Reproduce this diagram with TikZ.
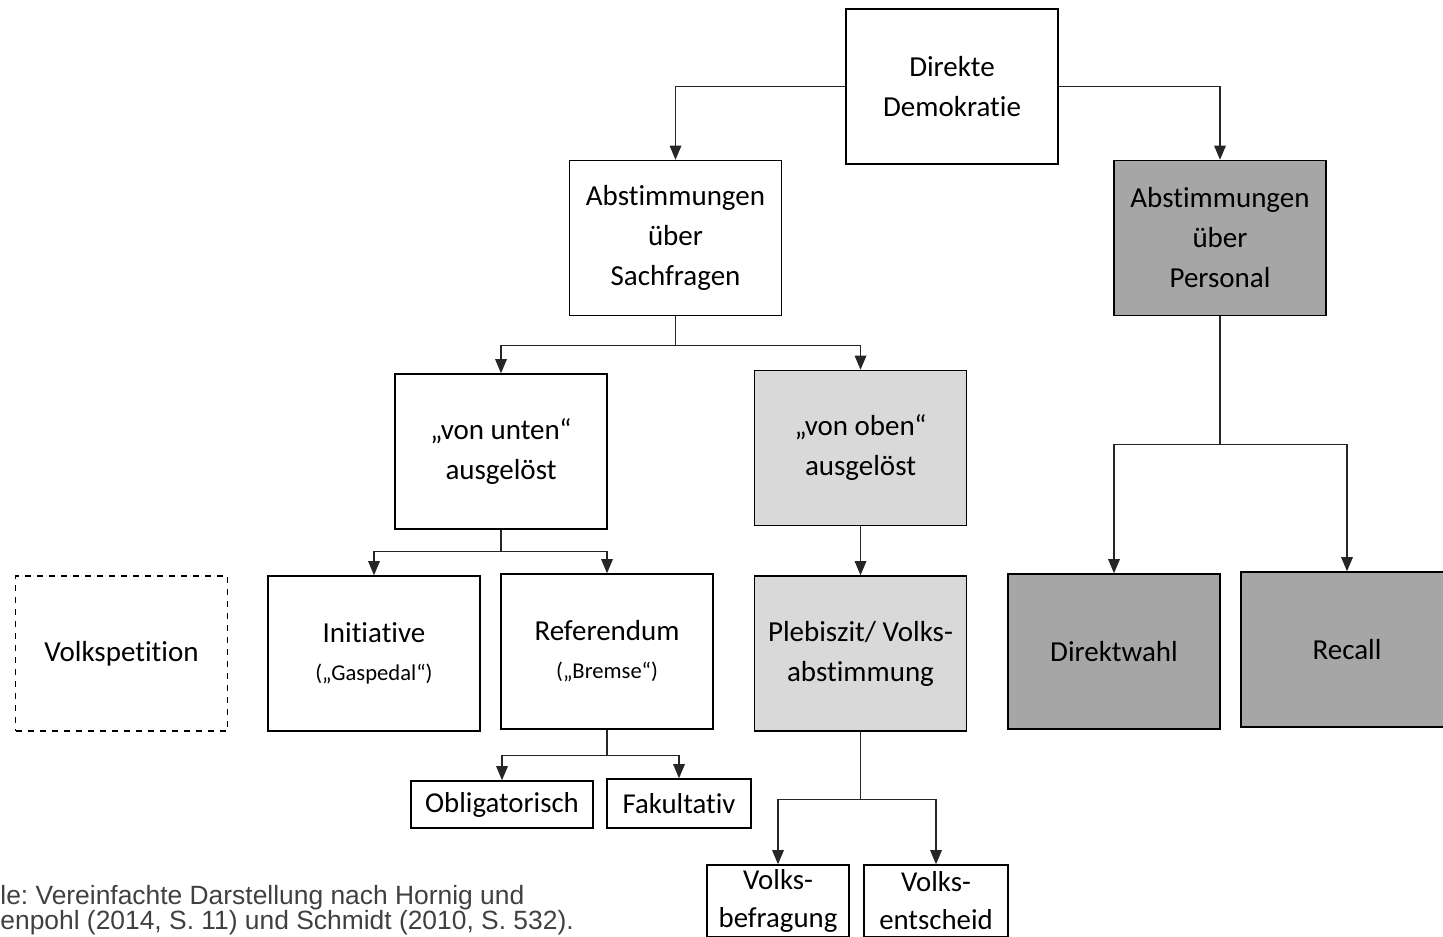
\documentclass[tikz,border=0pt]{standalone}
\usepackage{fontspec}
\setmainfont[Ligatures=NoCommon]{Carlito}
\newfontfamily\capfont{Liberation Sans}
\usepackage{tikz}
\usetikzlibrary{arrows}
\frenchspacing

\definecolor{darkbox}{HTML}{A6A6A6}
\definecolor{lightbox}{HTML}{D9D9D9}
\definecolor{capgray}{HTML}{404040}

\begin{document}
\begin{tikzpicture}
	[x=0.5pt,y=-0.5pt,->,>=triangle 45,
		box/.style={draw,line width=0.8pt,rectangle,minimum width=106pt,minimum height=77.5pt,align=center,inner sep=2pt,font=\fontsize{14.5}{20}\selectfont},
		small box/.style={draw,line width=0.8pt,rectangle,align=center,inner sep=1pt},
		link/.style={line width=0.6pt,draw=black!85},
		caption/.style={anchor=base west,inner sep=0pt,text=capgray,font=\capfont\fontsize{13.2}{15}\selectfont}]

	\useasboundingbox (0,0) rectangle (1443,936);
	\clip (0,0) rectangle (1443,936);

	\node[box] (dd) at (952,86.5) {Direkte\\Demokratie};
	\node[box] (as) at (675.5,238) {Abstimmungen\\über\\Sachfragen};
	\node[box,fill=darkbox] (ap) at (1220,238) {Abstimmungen\\über\\Personal};
	\node[box] (vu) at (501,451.5) {„von unten“\\ausgelöst};
	\node[box,fill=lightbox] (vo) at (860.5,448) {„von oben“\\ausgelöst};
	\node[box,dashed] (vp) at (121.5,653.5) {Volkspetition};
	\node[box] (init) at (374,653.5) {Initiative\\[-1pt]{\fontsize{11.3}{13}\selectfont(„Gaspedal“)}};
	\node[box] (ref) at (607,651.5) {Referendum\\[-1pt]{\fontsize{11.3}{13}\selectfont(„Bremse“)}};
	\node[box,fill=lightbox] (pv) at (860.5,653.5) {Plebiszit/ Volks-\\abstimmung};
	\node[box,fill=darkbox] (dw) at (1114,651.5) {Direktwahl};
	\node[box,fill=darkbox] (rc) at (1347,649.5) {Recall};
	\node[small box,minimum width=91pt,minimum height=23.5pt,font=\fontsize{14.4}{18}\selectfont] (ob) at (502,804.5) {Obligatorisch};
	\node[small box,minimum width=72pt,minimum height=24.5pt,font=\fontsize{14.4}{18}\selectfont] (fa) at (679,803.5) {Fakultativ};
	\node[small box,minimum width=71pt,minimum height=36pt,font=\fontsize{14.4}{19}\selectfont] (vb) at (778,901) {Volks-\\befragung};
	\node[small box,minimum width=72pt,minimum height=36pt,font=\fontsize{14.4}{19}\selectfont] (ve) at (936,901) {Volks-\\entscheid};

	\node[caption] (src1) at (0,904) {le: Vereinfachte Darstellung nach Hornig und};
	\node[caption] (src2) at (0,929) {enpohl (2014, S. 11) und Schmidt (2010, S. 532).};

	% junctions
	\path (as.south) ++(0,29) coordinate (sj);
	\path (vu.south) ++(0,22) coordinate (uj);
	\path (ref.south) ++(0,26) coordinate (rj);
	\path (pv.south) ++(0,68) coordinate (pj);
	\path (ap.south) ++(0,128) coordinate (aj);

	\draw[link] (dd.west) -| (as.north);
	\draw[link] (dd.east) -| (ap.north);
	\draw[link,-] (as.south) -- (sj);
	\draw[link] (sj) -| (vu.north);
	\draw[link] (sj) -| (vo.north);
	\draw[link,-] (vu.south) -- (uj);
	\draw[link] (uj) -| (init.north);
	\draw[link] (uj) -| (ref.north);
	\draw[link,-] (ref.south) -- (rj);
	\draw[link] (rj) -| (ob.north);
	\draw[link] (rj) -| (fa.north);
	\draw[link] (vo.south) -- (pv.north);
	\draw[link,-] (pv.south) -- (pj);
	\draw[link] (pj) -| (vb.north);
	\draw[link] (pj) -| (ve.north);
	\draw[link,-] (ap.south) -- (aj);
	\draw[link] (aj) -| (dw.north);
	\draw[link] (aj) -| (rc.north);

\end{tikzpicture}
\end{document}
